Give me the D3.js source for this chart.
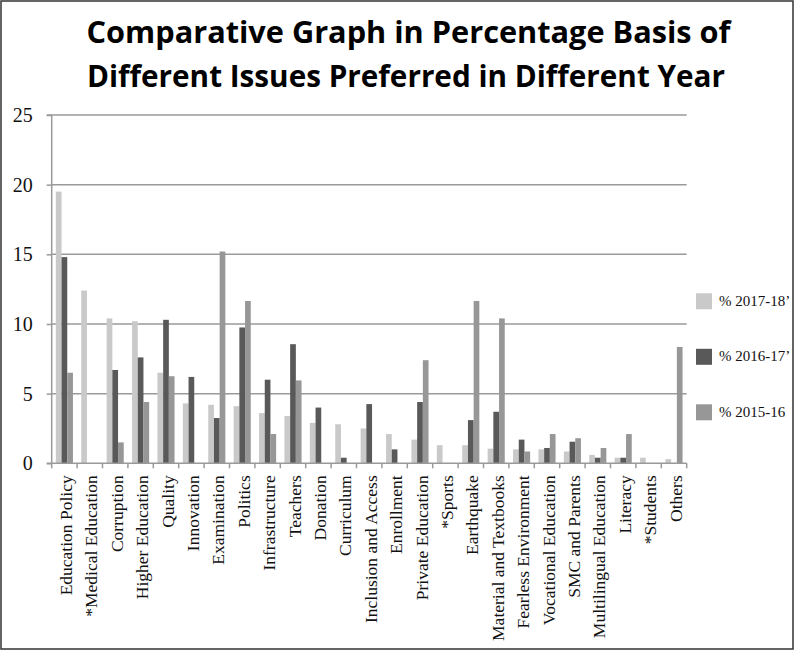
<!DOCTYPE html>
<html>
<head>
<meta charset="utf-8">
<script src="https://cdn.jsdelivr.net/npm/d3@7"></script>
<style>
  html, body { margin: 0; padding: 0; background: #fff; }
  svg { display: block; }
</style>
</head>
<body>
<svg id="chart" width="795" height="651"></svg>
<script>
const categories = ["Education Policy", "*Medical Education", "Corruption", "Higher Education", "Quality",
  "Innovation", "Examination", "Politics", "Infrastructure", "Teachers", "Donation", "Curriculum",
  "Inclusion and Access", "Enrollment", "Private Education", "*Sports", "Earthquake",
  "Material and Textbooks", "Fearless Environment", "Vocational Education", "SMC and Parents",
  "Multilingual Education", "Literacy", "*Students", "Others"];
const seriesNames = ["% 2017-18\u2019", "% 2016-17\u2019", "% 2015-16"];
const values2017 = [19.5, 12.4, 10.4, 10.2, 6.5, 4.3, 4.2, 4.1, 3.6, 3.4, 2.9, 2.8, 2.5, 2.1, 1.7, 1.3, 1.3, 1.05, 1.0, 1.0, 0.85, 0.6, 0.4, 0.4, 0.3];
const values2016 = [14.8, 0, 6.7, 7.6, 10.3, 6.2, 3.25, 9.75, 6.0, 8.55, 4.0, 0.4, 4.25, 1.0, 4.4, 0, 3.1, 3.7, 1.7, 1.1, 1.55, 0.4, 0.4, 0, 0];
const values2015 = [6.5, 0, 1.5, 4.4, 6.25, 0, 15.2, 11.65, 2.1, 5.95, 0, 0, 0, 0, 7.4, 0, 11.65, 10.4, 0.85, 2.1, 1.8, 1.1, 2.1, 0, 8.35];
const yTicks = [0, 5, 10, 15, 20, 25];
const titleLines = ["Comparative Graph in Percentage Basis of", "Different Issues Preferred in Different Year"];

const seriesValues = [values2017, values2016, values2015];
const colors = ["#c9c9c9", "#595959", "#979797"];

const svg = d3.select("#chart");
const serif = "'Liberation Serif', 'DejaVu Serif', serif";

// outer frame
svg.append("rect").attr("x", 1).attr("y", 1).attr("width", 792).attr("height", 648)
  .attr("fill", "#fff").attr("stroke", "#333").attr("stroke-width", 1.5);

// title
const titleY = [42.5, 87.3];
const titleW = [644, 638];
const titleX = [408.5, 406];
titleLines.forEach((t, i) => {
  svg.append("text")
    .attr("x", titleX[i]).attr("y", titleY[i])
    .attr("text-anchor", "middle")
    .attr("font-family", "'Open Sans', 'Liberation Sans', sans-serif")
    .attr("font-weight", 700)
    .attr("font-size", 30.5)
    .attr("textLength", titleW[i])
    .attr("lengthAdjust", "spacingAndGlyphs")
    .attr("fill", "#000")
    .text(t);
});

const pLeft = 51.7, pRight = 686.7, pTop = 115, pBottom = 463.3;
const x = d3.scaleBand().domain(categories).range([pLeft, pRight]).paddingInner(0).paddingOuter(0);
const xs = d3.scaleBand().domain(d3.range(3)).range([0, x.bandwidth()]).paddingInner(0).paddingOuter(0.73);
const y = d3.scaleLinear().domain([0, 25]).range([pBottom, pTop]);

// gridlines
svg.append("g").selectAll("line").data(yTicks.filter(d => d > 0)).join("line")
  .attr("x1", pLeft).attr("x2", pRight)
  .attr("y1", d => y(d)).attr("y2", d => y(d))
  .attr("stroke", "#9a9a9a").attr("stroke-width", 1.5);

// y axis
const yAxis = d3.axisLeft(y).tickValues(yTicks).tickSize(5).tickPadding(14).tickFormat(d3.format("d"));
const gy = svg.append("g").attr("transform", `translate(${pLeft},0)`).call(yAxis);
gy.select(".domain").attr("stroke", "#9a9a9a").attr("stroke-width", 1.5).attr("d", `M-5,${pTop}H0V${pBottom}H-5`);
gy.selectAll(".tick line").attr("stroke", "#9a9a9a").attr("stroke-width", 1.5);
gy.selectAll(".tick text").attr("font-family", serif).attr("font-size", 20).attr("fill", "#111");

// bars
const groups = svg.append("g").selectAll("g").data(categories).join("g")
  .attr("transform", d => `translate(${x(d)},0)`);
groups.selectAll("rect").data((d, i) => seriesValues.map((s, k) => ({k, v: s[i]}))).join("rect")
  .attr("x", d => xs(d.k))
  .attr("width", xs.bandwidth())
  .attr("y", d => y(d.v))
  .attr("height", d => pBottom - y(d.v))
  .attr("fill", d => colors[d.k]);

// x axis
const xAxisG = svg.append("g").attr("transform", `translate(0,${pBottom})`);
xAxisG.append("line").attr("x1", pLeft).attr("x2", pRight).attr("y1", 0).attr("y2", 0)
  .attr("stroke", "#9a9a9a").attr("stroke-width", 1.5);
const boundaries = categories.map(c => x(c)).concat([pRight]);
xAxisG.selectAll("line.tk").data(boundaries).join("line").attr("class", "tk")
  .attr("x1", d => d).attr("x2", d => d).attr("y1", 0).attr("y2", 5)
  .attr("stroke", "#9a9a9a").attr("stroke-width", 1.5);
xAxisG.selectAll("text").data(categories).join("text")
  .attr("transform", d => `translate(${x(d) + x.bandwidth() / 2 + 7.5},12) rotate(-90)`)
  .attr("text-anchor", "end")
  .attr("font-family", serif).attr("font-size", 17.5).attr("fill", "#111")
  .text(d => d);

// legend
const legendY = [293.3, 348.8, 404.3];
const lg = svg.append("g").selectAll("g").data(seriesNames).join("g")
  .attr("transform", (d, i) => `translate(696,${legendY[i]})`);
lg.append("rect").attr("width", 16).attr("height", 16).attr("fill", (d, i) => colors[i]);
lg.append("text").attr("x", 23).attr("y", 12.5)
  .attr("font-family", serif).attr("font-size", 15).attr("fill", "#111")
  .text(d => d);
</script>
</body>
</html>
